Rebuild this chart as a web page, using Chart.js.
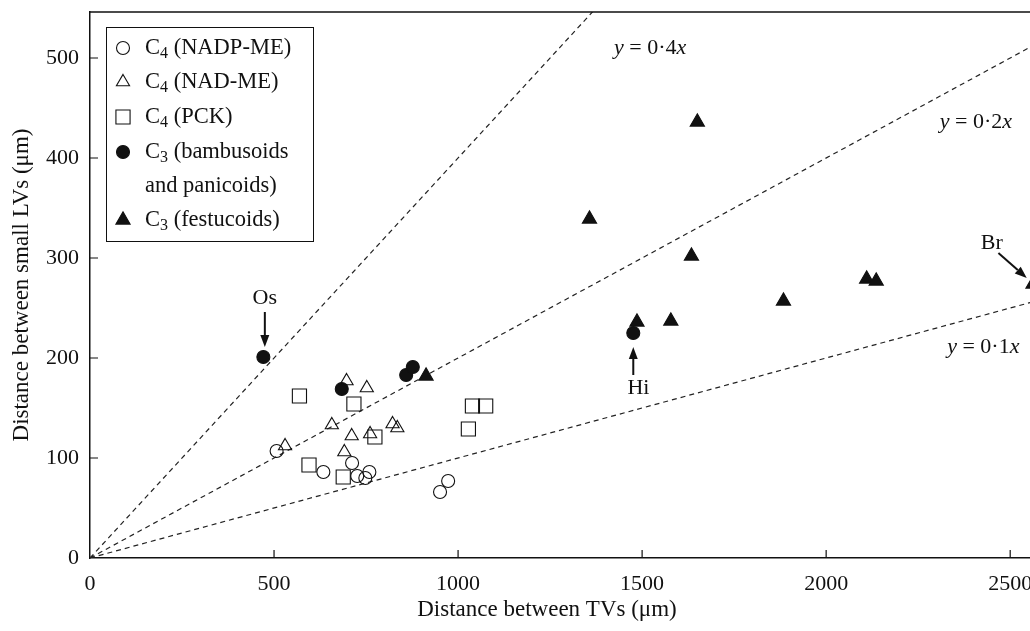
<!DOCTYPE html>
<html>
<head>
<meta charset="utf-8">
<script src="https://cdn.jsdelivr.net/npm/chart.js@4.4.0/dist/chart.umd.min.js"></script>
<style>
  html, body { margin: 0; padding: 0; background: #fff; overflow: hidden; }
  #wrap { width: 1060px; height: 631px; }
</style>
</head>
<body>
<div id="wrap"><canvas id="c" width="1060" height="631"></canvas></div>
<script>
// Distances between transverse veins (x) and small longitudinal veins (y), in µm
const nadpmeX = [507, 634, 712, 726, 759, 748, 951, 973];
const nadpmeY = [107, 86, 95, 82, 86, 80, 66, 77];

const nadmeX = [530, 697, 752, 657, 822, 835, 711, 761, 691];
const nadmeY = [112, 177, 170, 133, 134, 130, 122, 124, 106];

const pckX = [569, 717, 774, 595, 688, 1039, 1075, 1028];
const pckY = [162, 154, 121, 93, 81, 152, 152, 129];

const bambX = [471, 684, 859, 877, 1476];
const bambY = [201, 169, 183, 191, 225];

const festX = [913, 1357, 1650, 1634, 1486, 1578, 1884, 2110, 2136, 2562];
const festY = [182, 339, 436, 302, 236, 237, 257, 279, 277, 274];

// Reference lines y = k·x
const slopes = [0.4, 0.2, 0.1];
const slopeLabels = ['0·4', '0·2', '0·1'];

// Axis ticks
const xTicks = [0, 500, 1000, 1500, 2000, 2500];
const yTicks = [0, 100, 200, 300, 400, 500];
const X_MAX = 2600, Y_MAX = 546;

const FONT = '"Liberation Serif", "Times New Roman", serif';
const INK = '#111';

function pts(xs, ys) { return xs.map((x, i) => ({ x: x, y: ys[i] })); }

// Legend entries: [main, subscript, rest, optional second line]
const legendEntries = [
  ['C', '4', ' (NADP-ME)'],
  ['C', '4', ' (NAD-ME)'],
  ['C', '4', ' (PCK)'],
  ['C', '3', ' (bambusoids', 'and panicoids)'],
  ['C', '3', ' (festucoids)']
];

const pointSets = [
  { data: pts(nadpmeX, nadpmeY), pointStyle: 'circle',   pointRadius: 6.5, fill: false },
  { data: pts(nadmeX, nadmeY),   pointStyle: 'triangle', pointRadius: 7.6, fill: false },
  { data: pts(pckX, pckY),       pointStyle: 'rect',     pointRadius: 10,  fill: false },
  { data: pts(bambX, bambY),     pointStyle: 'circle',   pointRadius: 6.5, fill: true },
  { data: pts(festX, festY),     pointStyle: 'triangle', pointRadius: 8.2, fill: true }
];

const datasets = pointSets.map((s, i) => ({
  type: 'scatter',
  label: legendEntries[i][0] + legendEntries[i][1] + legendEntries[i][2] + (legendEntries[i][3] ? ' ' + legendEntries[i][3] : ''),
  data: s.data,
  pointStyle: s.pointStyle,
  pointRadius: s.pointRadius,
  pointHoverRadius: s.pointRadius,
  borderWidth: 1.1,
  borderColor: INK,
  backgroundColor: s.fill ? INK : 'rgba(0,0,0,0)',
  showLine: false,
  order: 1
}));

slopes.forEach(k => {
  datasets.push({
    type: 'line',
    label: 'y = ' + k + 'x',
    data: [{ x: 0, y: 0 }, { x: X_MAX, y: k * X_MAX }],
    borderColor: '#222',
    borderWidth: 1.2,
    borderDash: [5, 4],
    pointRadius: 0,
    fill: false,
    order: 2
  });
});

// Text annotations and arrows, in data units
const notes = [
  { text: 'Os', x: 475, y: 260, arrow: [475, 246, 475, 211] },
  { text: 'Hi', x: 1490, y: 170, arrow: [1476, 183, 1476, 211] },
  { text: 'Br', x: 2450, y: 315, arrow: [2468, 305, 2545, 280] }
];
const eqNotes = [
  { i: 0, x: 1522, y: 510 },
  { i: 1, x: 2407, y: 436 },
  { i: 2, x: 2427, y: 211 }
];

function drawRich(ctx, parts, x, y, align, size, subSize) {
  size = size || 22; subSize = subSize || 15;
  let total = 0;
  const fonts = parts.map(p => (p.italic ? 'italic ' : '') + (p.sub ? subSize : size) + 'px ' + FONT);
  const widths = parts.map((p, i) => { ctx.font = fonts[i]; const w = ctx.measureText(p.t).width; total += w; return w; });
  let cx = align === 'center' ? x - total / 2 : x;
  ctx.textAlign = 'left';
  ctx.textBaseline = 'middle';
  parts.forEach((p, i) => {
    ctx.font = fonts[i];
    ctx.fillText(p.t, cx, y + (p.sub ? size * 0.27 : 0));
    cx += widths[i];
  });
}

function arrow(ctx, x1, y1, x2, y2) {
  const ang = Math.atan2(y2 - y1, x2 - x1);
  const hl = 12, hw = 4.5;
  const bx = x2 - Math.cos(ang) * hl, by = y2 - Math.sin(ang) * hl;
  ctx.beginPath();
  ctx.moveTo(x1, y1);
  ctx.lineTo(bx, by);
  ctx.lineWidth = 2;
  ctx.stroke();
  ctx.beginPath();
  ctx.moveTo(x2, y2);
  ctx.lineTo(bx + Math.sin(ang) * hw, by - Math.cos(ang) * hw);
  ctx.lineTo(bx - Math.sin(ang) * hw, by + Math.cos(ang) * hw);
  ctx.closePath();
  ctx.fill();
}

const decorations = {
  id: 'decorations',
  afterDraw(chart) {
    const ctx = chart.ctx;
    const a = chart.chartArea;
    const xs = chart.scales.x, ys = chart.scales.y;
    ctx.save();
    ctx.strokeStyle = INK;
    ctx.fillStyle = INK;

    // top and right frame lines
    ctx.lineWidth = 1.5;
    ctx.beginPath();
    ctx.moveTo(a.left, a.top);
    ctx.lineTo(a.right, a.top);
    ctx.lineTo(a.right, a.bottom);
    ctx.stroke();

    // inward tick marks
    ctx.lineWidth = 1.2;
    ctx.beginPath();
    xTicks.forEach(v => {
      if (v === 0) return;
      const px = xs.getPixelForValue(v);
      ctx.moveTo(px, a.bottom);
      ctx.lineTo(px, a.bottom - 8);
    });
    yTicks.forEach(v => {
      if (v === 0) return;
      const py = ys.getPixelForValue(v);
      ctx.moveTo(a.left, py);
      ctx.lineTo(a.left + 8, py);
    });
    ctx.stroke();

    // x-axis title
    drawRich(ctx, [{ t: 'Distance between TVs (μm)' }], 547, 610, 'center', 23);

    // equation labels
    eqNotes.forEach(e => {
      drawRich(ctx, [
        { t: 'y', italic: true },
        { t: ' = ' + slopeLabels[e.i] },
        { t: 'x', italic: true }
      ], xs.getPixelForValue(e.x), ys.getPixelForValue(e.y), 'center', 22);
    });

    // labelled points
    notes.forEach(n => {
      drawRich(ctx, [{ t: n.text }], xs.getPixelForValue(n.x), ys.getPixelForValue(n.y), 'center', 22);
      arrow(ctx,
        xs.getPixelForValue(n.arrow[0]), ys.getPixelForValue(n.arrow[1]),
        xs.getPixelForValue(n.arrow[2]), ys.getPixelForValue(n.arrow[3]));
    });

    // legend
    const L = { left: 106, top: 27, right: 313, bottom: 241 };
    ctx.lineWidth = 1;
    ctx.strokeRect(L.left + 0.5, L.top + 0.5, L.right - L.left, L.bottom - L.top);
    const rows = [48, 82, 117, 152, 220];
    legendEntries.forEach((e, i) => {
      const ds = chart.data.datasets[i];
      ctx.strokeStyle = INK;
      ctx.fillStyle = ds.backgroundColor;
      ctx.lineWidth = 1.1;
      Chart.helpers.drawPoint(ctx, {
        pointStyle: ds.pointStyle,
        radius: ds.pointRadius,
        rotation: 0,
        borderWidth: 1.1
      }, 123, rows[i]);
      ctx.fillStyle = INK;
      drawRich(ctx, [{ t: e[0] }, { t: e[1], sub: true }, { t: e[2] }], 145, rows[i], 'left', 22.5, 16);
      if (e[3]) drawRich(ctx, [{ t: e[3] }], 145, rows[i] + 34, 'left', 22.5, 16);
    });
    ctx.restore();
  }
};

new Chart(document.getElementById('c'), {
  data: { datasets: datasets },
  options: {
    responsive: false,
    animation: false,
    events: [],
    layout: { padding: { top: 12, right: 13, left: 0, bottom: 0 } },
    plugins: { legend: { display: false }, tooltip: { enabled: false } },
    scales: {
      x: {
        type: 'linear',
        min: 0, max: X_MAX,
        afterBuildTicks: s => { s.ticks = xTicks.map(v => ({ value: v })); },
        afterFit: s => { s.height = 73; s.paddingLeft = 0; s.paddingRight = 0; },
        grid: { display: false, drawTicks: false },
        border: { display: true, color: INK, width: 1.5 },
        ticks: { color: INK, font: { family: FONT, size: 22 }, padding: 13, maxRotation: 0,
                 callback: v => String(v) },
        title: { display: false }
      },
      y: {
        type: 'linear',
        min: 0, max: Y_MAX,
        afterBuildTicks: s => { s.ticks = yTicks.map(v => ({ value: v })); },
        afterFit: s => { s.width = 90; s.paddingTop = 0; s.paddingBottom = 0; },
        grid: { display: false, drawTicks: false },
        border: { display: true, color: INK, width: 1.5 },
        ticks: { color: INK, font: { family: FONT, size: 22 }, padding: 11,
                 callback: v => String(v) },
        title: { display: true, text: 'Distance between small LVs (μm)', color: INK,
                 font: { family: FONT, size: 23 }, padding: { top: 8, bottom: 0 } }
      }
    }
  },
  plugins: [decorations]
});
</script>
</body>
</html>
